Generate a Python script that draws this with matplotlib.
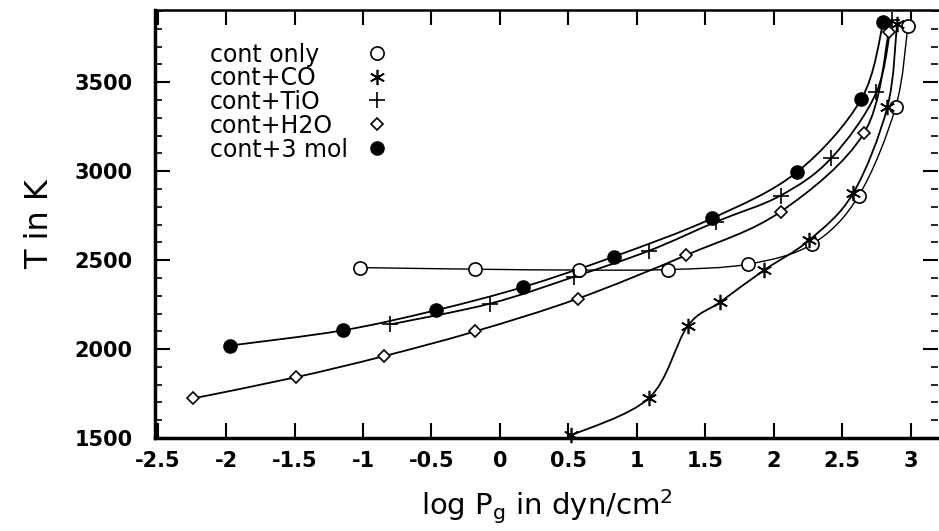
import numpy as np
import matplotlib.pyplot as plt
from matplotlib.path import Path
from matplotlib.patches import PathPatch

plt.rcParams['axes.unicode_minus'] = False
plt.rcParams['font.family'] = 'DejaVu Sans'

# log Pg, T for each opacity set
only_x = [-1.02, -0.18, 0.58, 1.23, 1.81, 2.28, 2.62, 2.89, 2.98]
only_t = [2458, 2449, 2444, 2447, 2477, 2590, 2861, 3359, 3816]

co_x = [0.52, 1.09, 1.37, 1.61, 1.93, 2.26, 2.58, 2.83, 2.90]
co_t = [1515, 1726, 2128, 2265, 2444, 2613, 2876, 3361, 3825]

tio_x = [-0.80, -0.07, 0.54, 1.09, 1.58, 2.05, 2.42, 2.75, 2.86]
tio_t = [2139, 2256, 2406, 2553, 2716, 2863, 3073, 3444, 3850]

h2o_x = [-2.24, -1.49, -0.85, -0.18, 0.57, 1.36, 2.05, 2.66, 2.84]
h2o_t = [1723, 1842, 1960, 2100, 2284, 2528, 2772, 3215, 3780]

mol_x = [-1.97, -1.15, -0.47, 0.17, 0.83, 1.55, 2.17, 2.64, 2.80]
mol_t = [2020, 2105, 2218, 2349, 2519, 2735, 2995, 3406, 3838]

labels = ['cont only', 'cont+CO', 'cont+TiO', 'cont+H2O', 'cont+3 mol']


def smooth_path(xs, ys):
    # Catmull-Rom through the points, written as cubic Bezier segments
    p = np.column_stack([xs, ys]).astype(float)
    verts = [p[0]]
    codes = [Path.MOVETO]
    n = len(p)
    for i in range(n - 1):
        p0 = p[i - 1] if i > 0 else p[i]
        p3 = p[i + 2] if i + 2 < n else p[i + 1]
        c1 = p[i] + (p[i + 1] - p0) / 6.0
        c2 = p[i + 1] - (p3 - p[i]) / 6.0
        verts += [c1, c2, p[i + 1]]
        codes += [Path.CURVE4] * 3
    return Path(verts, codes)


fig = plt.figure(figsize=(9.39, 5.31), dpi=100)
ax = fig.add_axes([0.165, 0.175, 0.834, 0.806])

series = [
    (only_x, only_t, dict(marker='o', mfc='white', mec='black', ms=9.5, mew=1.2), 1.0),
    (co_x, co_t, dict(marker=(6, 2, 0), mec='black', ms=11, mew=1.2), 1.3),
    (tio_x, tio_t, dict(marker='+', mec='black', ms=11, mew=1.2), 1.3),
    (h2o_x, h2o_t, dict(marker='D', mfc='white', mec='black', ms=6.5, mew=1.2), 1.3),
    (mol_x, mol_t, dict(marker='o', mfc='black', mec='black', ms=9.5), 1.3),
]

for xs, ys, mk, lw in series:
    ax.add_patch(PathPatch(smooth_path(xs, ys), fc='none', ec='black', lw=lw))
    ax.plot(xs, ys, ls='none', clip_on=False, zorder=3, **mk)

# key drawn by hand: text column on the left, symbol column on the right
row_y = 0.896
for (xs, ys, mk, lw), lab in zip(series, labels):
    ax.text(0.070, row_y, lab, transform=ax.transAxes, fontsize=17,
            va='center', ha='left')
    ax.plot([0.283], [row_y + 0.004], transform=ax.transAxes, ls='none', **mk)
    row_y -= 0.0555

ax.set_xlim(-2.52, 3.2)
ax.set_ylim(1500, 3905)
ax.set_xticks(np.arange(-2.5, 3.01, 0.5))
ax.set_xticklabels(['-2.5', '-2', '-1.5', '-1', '-0.5', '0', '0.5', '1', '1.5', '2', '2.5', '3'])
ax.set_yticks([1500, 2000, 2500, 3000, 3500])
ax.set_yticks(np.arange(1500, 3901, 100), minor=True)

ax.tick_params(axis='both', which='major', direction='in', length=11, width=1.5,
               top=True, right=True, labelsize=15)
ax.tick_params(axis='y', which='minor', direction='in', length=5, width=1.2,
               left=True, right=True)
ax.tick_params(axis='y', which='major', pad=16)
ax.tick_params(axis='x', which='major', pad=9)
for lab in ax.get_xticklabels() + ax.get_yticklabels():
    lab.set_fontweight('bold')

ax.spines['left'].set_linewidth(2.5)
ax.spines['bottom'].set_linewidth(2.5)
ax.spines['top'].set_linewidth(1.8)
ax.spines['right'].set_visible(False)

ax.set_xlabel(r'log P$_\mathregular{g}$ in dyn/cm$^\mathregular{2}$', fontsize=21, labelpad=12)
ax.set_ylabel('T in K', fontsize=23, labelpad=14)

fig.savefig('out.png', dpi=100)
